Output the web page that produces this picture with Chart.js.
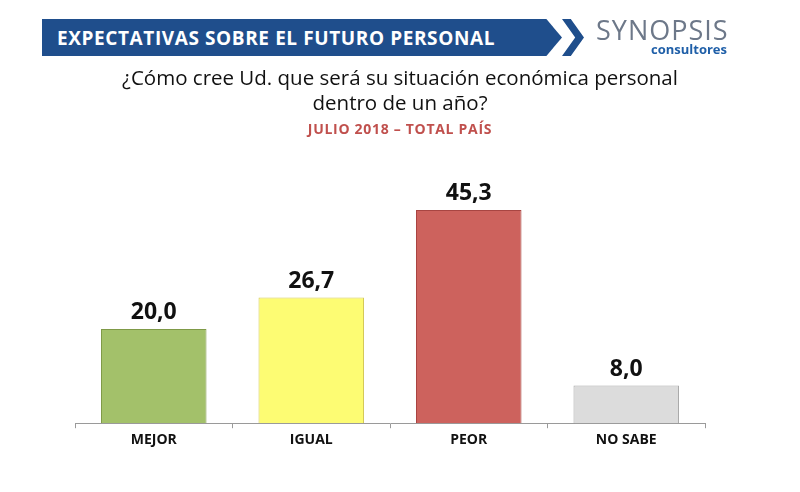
<!DOCTYPE html>
<html>
<head>
<meta charset="utf-8">
<script src="https://cdn.jsdelivr.net/npm/chart.js@4.4.1/dist/chart.umd.min.js"></script>
<style>
  body { margin: 0; background: #fff; font-family: "Open Sans", sans-serif; }
  #wrap { position: relative; width: 800px; height: 492px; overflow: hidden; }
  #banner { position: absolute; left: 42px; top: 19px; width: 520px; height: 37px; background: #1f4e8c;
    clip-path: polygon(0 0, 97% 0, 100% 50%, 97% 100%, 0 100%); }
  #banner span { position: absolute; left: 15px; top: 6px; color: #fff; font: bold 19px "Open Sans", sans-serif; letter-spacing: 0.6px; }
  #chev { position: absolute; left: 562px; top: 19px; width: 22px; height: 37px; background: #1f4e8c;
    clip-path: polygon(0 0, 40% 0, 100% 50%, 40% 100%, 0 100%, 60% 50%); }
  #logo1 { position: absolute; left: 596px; top: 11px; font: 27px "Open Sans", sans-serif; color: #6d7889; letter-spacing: 1px; }
  #logo2 { position: absolute; left: 651px; top: 40px; font: bold 13px "Open Sans", sans-serif; color: #1f5fa8; }
  #q { position: absolute; left: 0; width: 800px; top: 65px; text-align: center; font: 20.5px "Open Sans", sans-serif; color: #111; line-height: 25px; }
  #sub { position: absolute; left: 0; width: 800px; top: 119px; text-align: center; font: bold 14px "Open Sans", sans-serif; color: #c0504d; letter-spacing: 0.7px; }
  canvas { position: absolute; left: 0; top: 0; }
</style>
</head>
<body>
<div id="wrap">
  <canvas id="myChart" width="800" height="492"></canvas>
  <div id="banner"><span>EXPECTATIVAS SOBRE EL FUTURO PERSONAL</span></div>
  <div id="chev"></div>
  <div id="logo1">SYNOPSIS</div>
  <div id="logo2">consultores</div>
  <div id="q">¿Cómo cree Ud. que será su situación económica personal<br>dentro de un año?</div>
  <div id="sub">JULIO 2018 – TOTAL PAÍS</div>
</div>
<script>
const categories = ["MEJOR", "IGUAL", "PEOR", "NO SABE"];
const values = [20.0, 26.7, 45.3, 8.0];
const barColors = ["#a3c16a", "#fdfc73", "#cd625d", "#dcdcdc"];
const borderColors = ["#7f9a48", "#d4c95a", "#a84542", "#a9a9a9"];

// value labels above bars
const valueLabels = {
  id: "valueLabels",
  afterDatasetsDraw(chart) {
    const ctx = chart.ctx;
    const meta = chart.getDatasetMeta(0);
    ctx.save();
    ctx.font = "bold 23px 'Open Sans', sans-serif";
    ctx.fillStyle = "#111";
    ctx.textAlign = "center";
    ctx.textBaseline = "bottom";
    meta.data.forEach((bar, i) => {
      ctx.fillText(values[i].toFixed(1).replace(".", ","), bar.x, bar.y - 5);
    });
    ctx.restore();
  }
};

const ctx = document.getElementById("myChart");
new Chart(ctx, {
  type: "bar",
  data: {
    labels: categories,
    datasets: [{
      data: values,
      backgroundColor: barColors,
      borderColor: borderColors,
      borderWidth: 1,
      categoryPercentage: 0.67,
      barPercentage: 1
    }]
  },
  options: {
    responsive: false,
    animation: false,
    layout: { padding: { left: 75, right: 95, top: 188, bottom: 41 } },
    plugins: { legend: { display: false }, tooltip: { enabled: false } },
    scales: {
      x: {
        grid: { display: true, drawOnChartArea: false, offset: true, tickLength: 5, color: "#9a9a9a" },
        border: { color: "#9a9a9a" },
        ticks: { color: "#111", font: { family: "'Open Sans', sans-serif", size: 14, weight: "bold" }, padding: 3 }
      },
      y: { display: false, min: 0, max: 50 }
    }
  },
  plugins: [valueLabels]
});
</script>
</body>
</html>
